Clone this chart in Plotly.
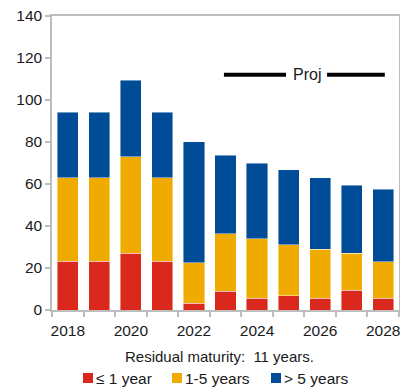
import plotly.graph_objects as go

# ---- data ----
years = [2018, 2019, 2020, 2021, 2022, 2023, 2024, 2025, 2026, 2027, 2028]
upto_1y = [23.3, 23.3, 27.0, 23.3, 3.2, 8.9, 5.7, 6.7, 5.7, 9.4, 5.7]
from_1_to_5y = [39.6, 39.6, 45.9, 39.6, 19.3, 27.3, 28.3, 24.4, 23.2, 17.6, 17.2]
over_5y = [31.2, 31.2, 36.5, 31.2, 57.7, 37.5, 36.0, 35.7, 34.1, 32.4, 34.6]
series_names = ["≤ 1 year", "1-5 years", "> 5 years"]
series_colors = ["#DA291C", "#F0AB00", "#004C97"]
y_ticks = [0, 20, 40, 60, 80, 100, 120, 140]
x_ticks = [2018, 2020, 2022, 2024, 2026, 2028]
title_text = "Residual maturity:\u00a0 11 years."
proj_label = "Proj"

FONT = "Liberation Sans, Arial, sans-serif"
TXT = "#1a1a1a"
AX = "#BDBDBD"

fig = go.Figure()
for name, vals, col in zip(series_names, [upto_1y, from_1_to_5y, over_5y], series_colors):
    fig.add_trace(go.Bar(
        x=years, y=vals, name=name,
        marker=dict(color=col, line=dict(width=0.8, color="rgba(255,255,255,0.55)")),
    ))

boundaries = [years[0] - 0.5 + i for i in range(len(years) + 1)]

fig.update_layout(
    width=400, height=387,
    margin=dict(l=52, r=1, t=16, b=77),
    paper_bgcolor="white", plot_bgcolor="white",
    barmode="stack", bargap=0.33,
    showlegend=False,
    font=dict(family=FONT, color=TXT, size=15),
    xaxis=dict(
        range=[boundaries[0], boundaries[-1]], automargin=False,
        tickvals=x_ticks, ticks="", showgrid=False, zeroline=False,
        showline=True, linecolor=AX, linewidth=1.5, mirror=True,
        tickfont=dict(size=15.5, color=TXT), ticklabeloverflow="allow",
        minor=dict(tickvals=boundaries, ticks="outside", ticklen=5,
                   tickcolor=AX, tickwidth=1.5, showgrid=False),
        ticklabelstandoff=6,
    ),
    yaxis=dict(
        range=[0, 140], tickvals=y_ticks, ticks="outside", ticklen=5, automargin=False,
        tickcolor=AX, tickwidth=1.5, showgrid=False, zeroline=False,
        showline=True, linecolor=AX, linewidth=1.5, mirror=True,
        tickfont=dict(size=15.5, color=TXT),
    ),
)

# projection marker
proj_y = 112
fig.add_shape(type="line", xref="x", yref="y", x0=2022.95, x1=2024.92, y0=proj_y, y1=proj_y,
              line=dict(color="black", width=4))
fig.add_shape(type="line", xref="x", yref="y", x0=2026.22, x1=2028.05, y0=proj_y, y1=proj_y,
              line=dict(color="black", width=4))
fig.add_annotation(x=2025.58, y=proj_y, xref="x", yref="y", text=proj_label, showarrow=False,
                   font=dict(size=16, color=TXT), xanchor="center", yanchor="middle")

# caption below the axis
fig.add_annotation(x=(219 - 52) / 347, y=(310 - 356) / 294, xref="paper", yref="paper",
                   text=title_text, showarrow=False, xanchor="center", yanchor="middle",
                   font=dict(size=15, color=TXT))

# legend drawn as squares + labels
legend_left_px = [83, 172, 271]
for name, col, lx in zip(series_names, series_colors, legend_left_px):
    x0 = (lx - 52) / 347
    x1 = (lx + 10 - 52) / 347
    fig.add_shape(type="rect", xref="paper", yref="paper", x0=x0, x1=x1,
                  y0=(310 - 383) / 294, y1=(310 - 373) / 294,
                  fillcolor=col, line=dict(width=0))
    fig.add_annotation(x=(lx + 11 - 52) / 347, y=(310 - 378) / 294, xref="paper", yref="paper",
                       text=name, showarrow=False, xanchor="left", yanchor="middle",
                       font=dict(size=15.5, color=TXT))

fig.write_html("out.html", config={"displayModeBar": False},
               post_script="document.body.style.margin='0px';document.body.style.padding='0px';")
